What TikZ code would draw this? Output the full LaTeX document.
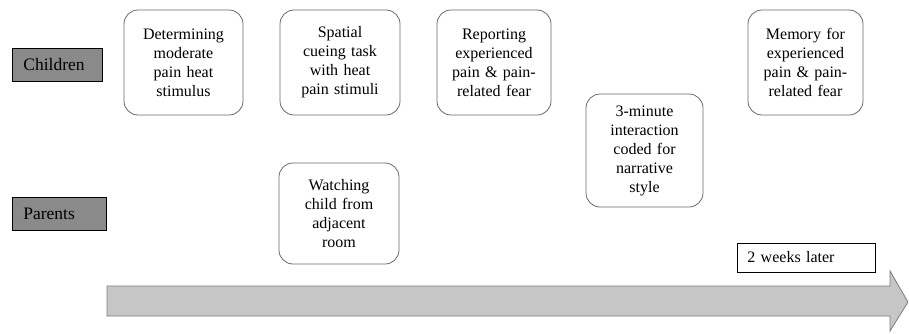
\documentclass[tikz,border=0pt]{standalone}
\usepackage{fontspec}
\setmainfont{Liberation Serif}
\usetikzlibrary{positioning}

\definecolor{boxline}{RGB}{105,105,105}
\definecolor{groupfill}{RGB}{138,138,138}
\definecolor{arrowfill}{RGB}{198,198,198}
\definecolor{arrowline}{RGB}{125,125,125}

\tikzset{
  stage/.style={draw=boxline, line width=0.8pt, rounded corners=14pt, align=center, inner sep=2pt,
    font=\fontsize{16}{19}\selectfont},
  group/.style={draw=black, line width=0.8pt, fill=groupfill, anchor=west, align=left, inner xsep=11pt,
    minimum height=33pt, font=\fontsize{17.5}{20}\selectfont},
}

\begin{document}
\begin{tikzpicture}[x=1pt, y=-1pt]
                \useasboundingbox (0,0) rectangle (909,333);
                % time line
                \draw[arrowline, line width=0.8pt, fill=arrowfill] (107,286) -- (890,286) -- (890,271) -- (908,302)
                    -- (890,331) -- (890,316) -- (107,316) -- cycle;
                % groups
                \node[group, text width=68pt] (children) at (12,64.5) {Children};
                \node[group, text width=72pt] (parents) at (12,213.5) {Parents};
                % stages
                \node[stage, minimum width=119pt, minimum height=105pt, text width=110pt] (threshold) at (183.5,62.5)
                    {Determining\\moderate\\pain heat\\stimulus};
                \node[stage, minimum width=120pt, minimum height=105pt, text width=110pt] (cueing) at (340,62.5)
                    {Spatial\\cueing task\\with heat\\pain stimuli};
                \node[stage, minimum width=114pt, minimum height=105pt, text width=106pt] (report) at (494,62.5)
                    {Reporting\\experienced\\pain \& pain-\\related fear};
                \node[stage, minimum width=117pt, minimum height=113pt, text width=108pt] (interaction) at (644.5,150.5)
                    {3-minute\\interaction\\coded for\\narrative\\style};
                \node[stage, minimum width=115pt, minimum height=105pt, text width=106pt] (memory) at (805.5,62.5)
                    {Memory for\\experienced\\pain \& pain-\\related fear};
                \node[stage, minimum width=120pt, minimum height=101pt, text width=110pt] (watching) at (339,213.5)
                    {Watching\\child from\\adjacent\\room};
                % delay
                \node[draw=black, line width=0.8pt, anchor=west, align=left, text width=118pt, inner xsep=10pt,
                    minimum height=29pt, font=\fontsize{16}{19}\selectfont] (delay) at (737,257.5) {2 weeks later};
            \end{tikzpicture}
\end{document}
